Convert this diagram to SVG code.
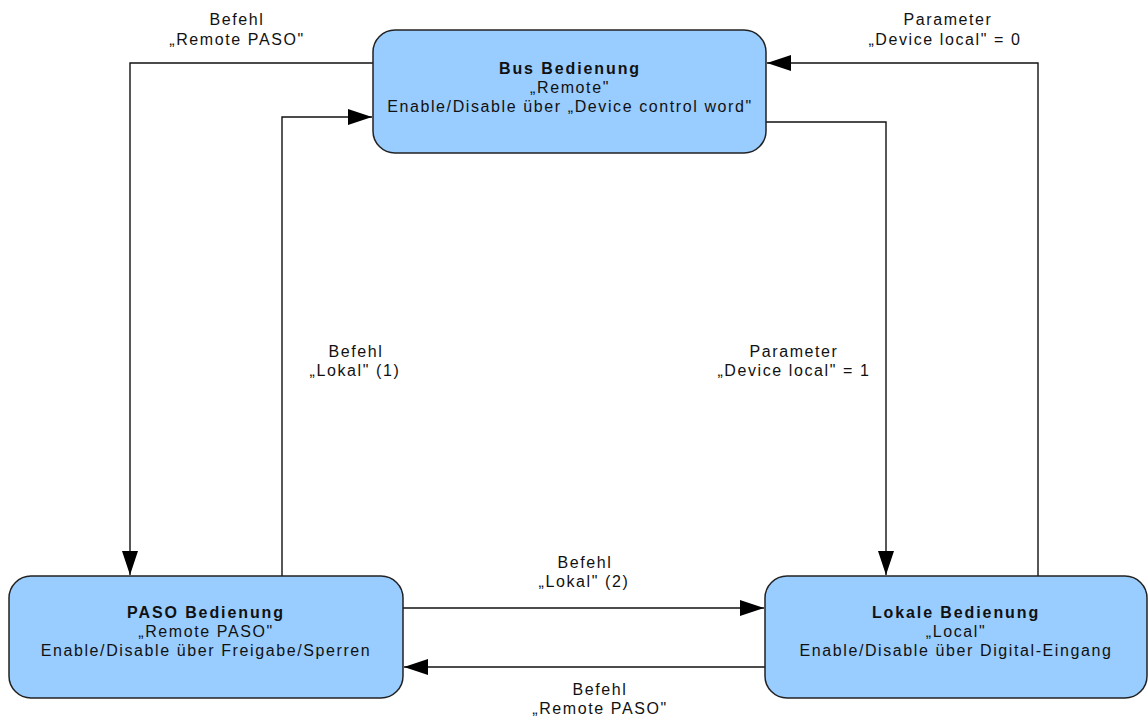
<svg xmlns="http://www.w3.org/2000/svg" width="1148" height="718" viewBox="0 0 1148 718">
<style>
.box{fill:#99ccff;stroke:#222;stroke-width:1.5}
.t{font-family:"Liberation Sans",Arial,sans-serif;font-size:16px;fill:#111;text-anchor:middle;letter-spacing:1.6px}
.b{font-weight:bold;letter-spacing:1.9px}
.c{fill:none;stroke:#111;stroke-width:1.4}
</style>
<defs>
<marker id="ah" markerUnits="userSpaceOnUse" markerWidth="26" markerHeight="18" refX="24" refY="8" orient="auto">
<path d="M0,0 L24,8 L0,16 z" fill="#000"/>
</marker>
</defs>
<rect width="1148" height="718" fill="#fff"/>
<g id="connectors">
<path class="c" d="M373,63 H130 V575" marker-end="url(#ah)"/>
<path class="c" d="M282,576 V117 H372" marker-end="url(#ah)"/>
<path class="c" d="M766,122 H886 V575" marker-end="url(#ah)"/>
<path class="c" d="M1038,576 V63 H767" marker-end="url(#ah)"/>
<path class="c" d="M403,608 H764" marker-end="url(#ah)"/>
<path class="c" d="M765,667 H404" marker-end="url(#ah)"/>
<text class="t" x="237" y="25">Befehl</text>
<text class="t" x="237" y="45">„Remote PASO"</text>
<text class="t" x="948" y="25">Parameter</text>
<text class="t" x="945" y="45">„Device local" = 0</text>
<text class="t" x="356" y="357">Befehl</text>
<text class="t" x="355" y="376">„Lokal" (1)</text>
<text class="t" x="794" y="357">Parameter</text>
<text class="t" x="794" y="376">„Device local" = 1</text>
<text class="t" x="585" y="568">Befehl</text>
<text class="t" x="584" y="587">„Lokal" (2)</text>
<text class="t" x="600" y="695">Befehl</text>
<text class="t" x="600" y="714">„Remote PASO"</text>
</g>
<g id="bus">
<rect class="box" x="373" y="30" width="393" height="123" rx="22"/>
<text class="t b" x="570" y="74">Bus Bedienung</text>
<text class="t" x="570" y="93">„Remote"</text>
<text class="t" x="570" y="112">Enable/Disable über „Device control word"</text>
</g>
<g id="paso">
<rect class="box" x="9" y="576" width="394" height="122" rx="22"/>
<text class="t b" x="206" y="618">PASO Bedienung</text>
<text class="t" x="206" y="637">„Remote PASO"</text>
<text class="t" x="206" y="656">Enable/Disable über Freigabe/Sperren</text>
</g>
<g id="lokal">
<rect class="box" x="765" y="576" width="382" height="122" rx="22"/>
<text class="t b" x="956" y="618">Lokale Bedienung</text>
<text class="t" x="956" y="637">„Local"</text>
<text class="t" x="956" y="656">Enable/Disable über Digital-Eingang</text>
</g>
</svg>
